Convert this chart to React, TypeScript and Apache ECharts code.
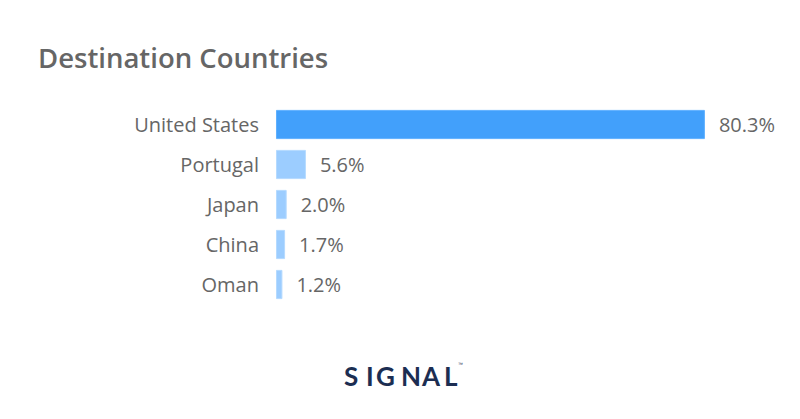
import React, { useEffect, useRef } from "react";
import * as echarts from "echarts";

const categories = ["United States", "Portugal", "Japan", "China", "Oman"];
const values = [80.3, 5.6, 2.0, 1.7, 1.2];
const title = "Destination Countries";
const logoLetters = ["S", "I", "G", "N", "A", "L"];

export default function App() {
  const ref = useRef<HTMLDivElement>(null);
  useEffect(() => {
    const chart = echarts.init(ref.current!, null, { renderer: "svg" });
    const letterX = [344, 366, 376, 401, 422, 444];
    chart.setOption({
      animation: false,
      backgroundColor: "#ffffff",
      title: {
        text: title,
        left: 33,
        top: 38,
        textStyle: {
          fontFamily: "Open Sans",
          fontWeight: 600,
          fontSize: 27.5,
          color: "#666666",
        },
      },
      grid: { left: 276, right: 70, top: 104.5, height: 200 },
      xAxis: {
        type: "value",
        min: 0,
        max: 85,
        show: false,
      },
      yAxis: {
        type: "category",
        inverse: true,
        data: categories,
        axisLine: { show: false },
        axisTick: { show: false },
        axisLabel: {
          margin: 17,
          fontFamily: "Open Sans",
          fontSize: 20,
          color: "#666666",
        },
      },
      series: [
        {
          type: "bar",
          data: values.map((v, i) => ({
            value: v,
            itemStyle: {
              color: i === 0 ? "#42A0FB" : "#9CCDFF",
              borderColor: i === 0 ? "#5FB0FF" : "#B5DAFF",
              borderWidth: 1,
            },
          })),
          barCategoryGap: "27%",
          label: {
            show: true,
            position: "right",
            distance: 14,
            formatter: (p: any) => p.value.toFixed(1) + "%",
            fontFamily: "Open Sans",
            fontSize: 20,
            color: "#666666",
          },
        },
      ],
      graphic: [
        ...logoLetters.map((l, i) => ({
          type: "text",
          x: letterX[i],
          y: 376,
          style: {
            text: l,
            fontFamily: "Lato",
            fontWeight: "bold",
            fontSize: 26,
            fill: "#1C2E52",
            verticalAlign: "middle",
          },
        })),
        {
          type: "text",
          x: 458,
          y: 361,
          style: { text: "™", fontSize: 5, fill: "#1C2E52" },
        },
      ],
    });
    return () => chart.dispose();
  }, []);
  return (
    <div
      ref={ref}
      style={{ position: "absolute", left: 0, top: 0, width: 800, height: 419 }}
    />
  );
}
